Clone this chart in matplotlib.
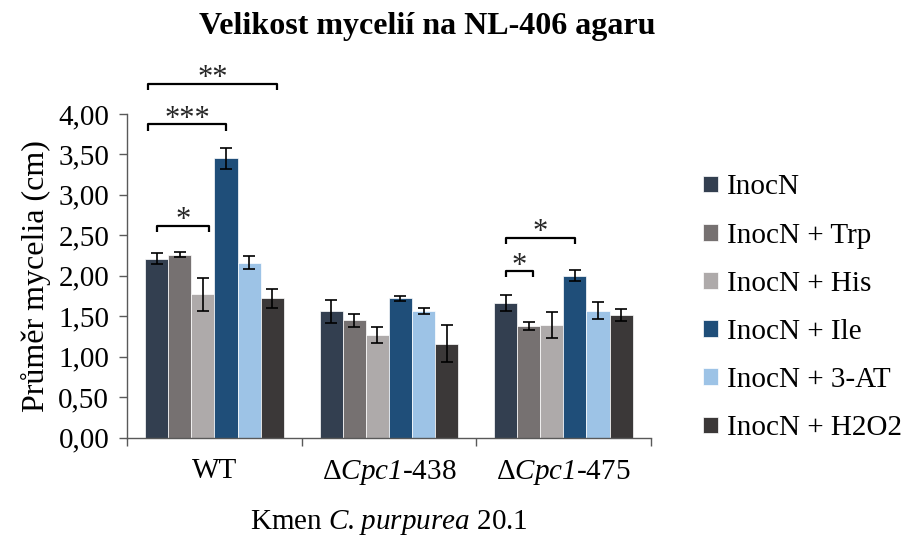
import numpy as np
import matplotlib
matplotlib.use("Agg")
import matplotlib.pyplot as plt

plt.rcParams['font.family'] = ['Liberation Serif', 'DejaVu Serif']
plt.rcParams['mathtext.fontset'] = 'custom'
plt.rcParams['mathtext.rm'] = 'Liberation Serif'
# italic face under \mathbf so digits and dots come out italic too
plt.rcParams['mathtext.bf'] = 'Liberation Serif:italic'

# data
strains = ['WT', 'Δ$\\mathbf{Cpc1}$-438', 'Δ$\\mathbf{Cpc1}$-475']
treatments = ['InocN', 'InocN + Trp', 'InocN + His', 'InocN + Ile', 'InocN + 3-AT', 'InocN + H2O2']
colors = ['#333F50', '#767171', '#AEAAAA', '#1F4E79', '#9DC3E6', '#3B3838']

inocn = [2.21, 1.56, 1.66]
trp = [2.26, 1.45, 1.38]
his = [1.77, 1.27, 1.39]
ile = [3.45, 1.72, 2.00]
at3 = [2.16, 1.56, 1.57]
h2o2 = [1.72, 1.16, 1.51]

inocn_err = [0.07, 0.14, 0.10]
trp_err = [0.03, 0.08, 0.045]
his_err = [0.20, 0.10, 0.16]
ile_err = [0.13, 0.03, 0.065]
at3_err = [0.08, 0.035, 0.11]
h2o2_err = [0.12, 0.23, 0.075]

values = [inocn, trp, his, ile, at3, h2o2]
errors = [inocn_err, trp_err, his_err, ile_err, at3_err, h2o2_err]

# significance brackets: group, left/right end (in bar slots), height, label
brackets = [
    (0, 0.0, 2.26, 2.62, '*'),
    (0, -0.38, 3.0, 3.87, '***'),
    (0, -0.38, 5.19, 4.375, '**'),
    (2, 0.0, 1.2, 2.06, '*'),
    (2, 0.0, 3.02, 2.47, '*'),
]

fig = plt.figure(figsize=(9.04, 5.42), dpi=100)
ax = fig.add_axes([0.1408, 0.1928, 0.5788, 0.5969])

x = np.arange(len(strains))
w = 0.795 / 6
for i in range(6):
    ax.bar(x + (i - 2.5) * w, values[i], w, color=colors[i], edgecolor='white',
           linewidth=0.5, label=treatments[i],
           yerr=errors[i], capsize=4.5, error_kw=dict(ecolor='black', elinewidth=1.2, capthick=1.2))

for g, b1, b2, h, lab in brackets:
    x1 = g + (b1 - 2.5) * w
    x2 = g + (b2 - 2.5) * w
    drop = 0.075
    ax.plot([x1, x1, x2, x2], [h - drop, h, h, h - drop], color='black', lw=1.6,
            clip_on=False, solid_capstyle='butt')
    ax.text((x1 + x2) / 2, h - 0.12, lab, ha='center', va='bottom', fontsize=22,
            color='#262626', clip_on=False)

ax.set_xlim(-0.5, 2.5)
ax.set_ylim(0, 4)
yt = np.arange(0, 4.01, 0.5)
ax.set_yticks(yt)
ax.set_yticklabels([('%.2f' % v).replace('.', ',') for v in yt])
ax.set_xticks(x)
ax.set_xticklabels(strains)
ax.set_xticks([-0.5, 0.5, 1.5, 2.5], minor=True)
ax.tick_params(axis='x', which='major', length=0, pad=15, labelsize=21)
ax.tick_params(axis='x', which='minor', length=6, width=1, color='#595959')
ax.tick_params(axis='y', length=6, width=1, color='#595959', pad=7, labelsize=21)

for s in ['top', 'right']:
    ax.spines[s].set_visible(False)
for s in ['left', 'bottom']:
    ax.spines[s].set_color('#595959')
    ax.spines[s].set_linewidth(1)

ax.set_ylabel('Průměr mycelia (cm)', fontsize=23, labelpad=5)
# mathtext already puts a small space after the dot
ax.set_xlabel('Kmen $\\mathbf{C.purpurea}$ 20.1', fontsize=21, labelpad=15)
fig.text(0.473, 0.937, 'Velikost mycelií na NL-406 agaru', fontsize=23, fontweight='bold',
         ha='center', va='baseline')

fig.legend(loc='center left', bbox_to_anchor=(0.765, 0.432), frameon=False, fontsize=21,
           handlelength=0.5, handleheight=0.5, handletextpad=0.3, labelspacing=0.76,
           borderaxespad=0)

fig.savefig('out.png', dpi=100)
